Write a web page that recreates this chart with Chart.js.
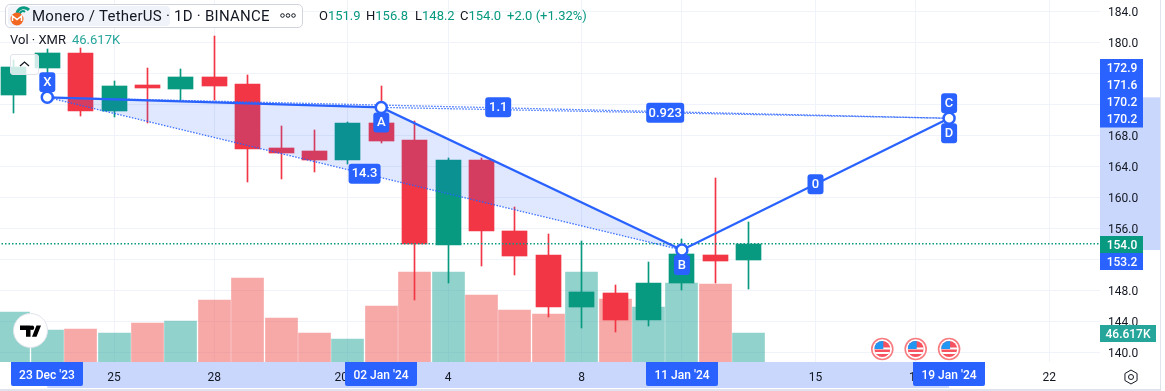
<!DOCTYPE html>
<html>
<head>
<meta charset="utf-8">
<script src="https://cdn.jsdelivr.net/npm/chart.js@4"></script>
<style>
html,body{margin:0;padding:0;background:#fff;overflow:hidden}
#wrap{position:relative;width:1165px;height:391px;font-family:Roboto,sans-serif;color:#131722}
#frame{position:absolute;left:0;top:0;width:1160px;height:389px;border-right:1px solid #E0E3EB;border-bottom:2px solid #E0E3EB;box-sizing:content-box;pointer-events:none}
canvas{position:absolute;left:0;top:0}
.ov{position:absolute;white-space:nowrap}
#box{left:5px;top:4px;width:296px;height:22px;border:1px solid #D1D4DC;border-radius:5px;background:rgba(255,255,255,.85)}
#chip{left:8px;top:6px;width:162px;height:20px;background:#F0F3FA;border-radius:4px}
#title{left:32px;top:6px;font-size:15px;line-height:20px;color:#131722;letter-spacing:.25px}
#dots{left:280px;top:13px;width:16px;height:5px}
.q{top:7px;font-size:13px;line-height:18px;color:#089981}
.q b{font-weight:400;color:#131722}
#vol{left:10px;top:31px;font-size:13px;line-height:18px;color:#131722}
#volv{left:72px;top:31px;font-size:13px;line-height:18px;color:#26A69A}
#btn{left:10px;top:54px;width:27px;height:19px;border:1px solid #E0E3EB;border-radius:3px;background:rgba(255,255,255,.8)}
#logo{left:13px;top:313px;width:35px;height:35px;border-radius:50%;background:#fff;border:1px solid #E0E3EB;box-sizing:border-box}
</style>
</head>
<body>
<div id="wrap">
<canvas id="c" width="1165" height="391"></canvas>
<div id="frame"></div>
<div class="ov" id="box"></div>
<div class="ov" id="chip"></div>
<svg class="ov" style="left:9px;top:5px" width="21" height="21" viewBox="0 0 21 21">
 <path d="M8 8 A7 7 0 0 1 20 5" fill="none" stroke="#089981" stroke-width="3"/>
 <path d="M11 10 A3 3 0 0 1 16 7" fill="none" stroke="#089981" stroke-width="2"/>
 <circle cx="8" cy="14" r="6.5" fill="#F26822"/>
 <path d="M3.5 16 V11 L8 14.5 L12.5 11 V16" fill="none" stroke="#fff" stroke-width="1.5"/>
</svg>
<div class="ov" id="title">Monero / TetherUS · 1D · BINANCE</div>
<svg class="ov" id="dots" viewBox="0 0 16 5"><circle cx="2.5" cy="2.5" r="1.8" fill="none" stroke="#131722"/><circle cx="8" cy="2.5" r="1.8" fill="none" stroke="#131722"/><circle cx="13.5" cy="2.5" r="1.8" fill="none" stroke="#131722"/></svg>
<div class="ov q" style="left:319px"><b>O</b>151.9</div>
<div class="ov q" style="left:366px"><b>H</b>156.8</div>
<div class="ov q" style="left:415px"><b>L</b>148.2</div>
<div class="ov q" style="left:460px"><b>C</b>154.0</div>
<div class="ov q" style="left:507px">+2.0 (+1.32%)</div>
<div class="ov" id="vol">Vol · XMR</div>
<div class="ov" id="volv">46.617K</div>
<div class="ov" id="btn"><svg width="27" height="19" viewBox="0 0 27 19"><path d="M9 11 L13.5 7 L18 11" fill="none" stroke="#131722" stroke-width="1.3"/></svg></div>
<div class="ov" id="logo"><svg style="position:absolute;left:6px;top:11px" width="21" height="12" viewBox="6 6 28 15"><path d="M14 6H6v6h8v9h6V6zM28 21h-6l6-15h6l-6 15z M22 12a3 3 0 1 0 0-6 3 3 0 0 0 0 6z" fill="#000"/></svg></div>
</div>
<script>
// ---- data ----
const days   = [0,1,2,3,4,5,6,7,8,9,10,11,12,13,14,15,16,17,18,19,20,21,22]; // days since 22 Dec 2023
const opens  = [173.2,176.68,178.62,171.14,174.49,173.97,175.52,174.62,166.36,165.97,164.81,169.59,167.39,153.85,164.81,155.65,152.55,145.85,147.65,144.17,148.94,152.55,151.9];
const closes = [176.81,178.62,171.14,174.36,174.1,175.52,174.36,166.23,165.72,164.81,169.59,167.26,153.97,164.81,155.65,152.43,145.85,147.78,144.17,148.94,152.68,151.78,154.0];
const highs  = [177.72,179.1,179.26,175.01,176.68,176.55,180.81,175.78,169.2,168.68,169.72,174.36,169.85,165.07,165.07,158.75,155.26,154.36,148.68,151.65,154.62,162.49,156.8];
const lows   = [170.92,174.5,170.49,170.4,169.59,172.55,172.55,162.01,162.36,163.26,164.3,167.01,146.75,148.94,151.14,149.97,144.55,143.14,142.62,143.39,148.04,148.94,148.2];
const volumes= [80.4,51.4,53,46.6,62.7,65.9,99.7,135,70.7,46.6,37,90,144.7,144.7,107.7,83.6,77.2,144.7,101.3,88.4,127,125.4,46.617];
const tickDays   = [3,6,10,13,17,20,24,27,31];
const tickLabels = ['25','28','2024','4','8','11','15','18','22'];
const priceTicks = [140,144,148,152,156,160,164,168,172,176,180,184];
const patternDays   = [1,11,20,28];
const patternPrices = [172.9,171.6,153.2,170.2];
const patternNames  = ['X','A','B','C'];
const ratioLabels   = ['14.3','1.1','0.923','0'];
const dateLabels    = ["23 Dec '23","02 Jan '24","11 Jan '24","19 Jan '24"];
const priceLabels   = ['172.9','171.6','170.2','170.2'];
const eventDays     = [26,27,28];
const lastPrice = 154.0, lastVolLabel = '46.617K';

const RED='#F23645', GREEN='#089981', BLUE='#2962FF', BAND='#C9D7FD';
const FONT='Roboto, sans-serif';
const pt=(i)=>({x:patternDays[i],y:patternPrices[i]});
const isUp=(i)=>closes[i]>=opens[i];
const noPad=s=>{s.paddingTop=s.paddingBottom=s.paddingLeft=s.paddingRight=0;};

function pill(ctx,cx,cy,w,h,text,font){
  ctx.fillStyle=BLUE;ctx.beginPath();ctx.roundRect(cx-w/2,cy-h/2,w,h,3);ctx.fill();
  ctx.fillStyle='#fff';ctx.font=font||('500 13px '+FONT);ctx.textAlign='center';ctx.textBaseline='middle';
  ctx.fillText(text,cx,cy+.5);
}

const snapBars={id:'snapBars',afterDatasetUpdate(chart,args){
  if(args.meta.type==='bar')args.meta.data.forEach(el=>{
    el.x=Math.floor(el.x)+.5;el.y=Math.round(el.y);el.base=Math.round(el.base);
  });
}};

const bands={id:'bands',beforeDraw(chart){
  const {ctx,scales:{x,y}}=chart;
  ctx.save();ctx.fillStyle=BAND;
  const xa=x.getPixelForValue(patternDays[0]),xb=x.getPixelForValue(patternDays[3]);
  ctx.fillRect(xa,x.top,xb-xa,x.height);
  const ya=y.getPixelForValue(patternPrices[0]),yb=y.getPixelForValue(patternPrices[2]);
  ctx.fillRect(y.left,ya,y.width,yb-ya);
  ctx.restore();
}};

const overlay={id:'overlay',afterDraw(chart){
  const {ctx,scales:{x,y}}=chart;
  const px=v=>x.getPixelForValue(v), py=v=>y.getPixelForValue(v);
  ctx.save();
  // event flags
  eventDays.forEach(d=>{
    const cx=px(d),cy=349;
    ctx.beginPath();ctx.arc(cx,cy,10.5,0,7);ctx.fillStyle='#fff';ctx.fill();
    ctx.lineWidth=1.6;ctx.strokeStyle='#F77C80';ctx.stroke();
    ctx.save();ctx.beginPath();ctx.arc(cx,cy,8,0,7);ctx.clip();
    ctx.fillStyle='#F7525F';ctx.fillRect(cx-8,cy-8,16,16);
    ctx.fillStyle='#fff';ctx.fillRect(cx-8,cy-1.5,16,2);ctx.fillRect(cx-8,cy+3,16,2);
    ctx.fillStyle='#2196F3';ctx.fillRect(cx-8,cy-8,9,8);
    ctx.restore();
  });
  // pattern legs labels
  const mid=(a,b)=>[(px(pt(a).x)+px(pt(b).x))/2,(py(pt(a).y)+py(pt(b).y))/2];
  const m0=mid(0,2),m1=mid(0,3),m2=mid(1,3),m3=mid(2,3);
  pill(ctx,m0[0],m0[1],32,20,ratioLabels[0]);
  pill(ctx,m1[0],m1[1]-.5,26,20,ratioLabels[1]);
  pill(ctx,m2[0],m2[1],38,20,ratioLabels[2]);
  pill(ctx,m3[0],m3[1],16,20,ratioLabels[3]);
  // point letters
  pill(ctx,px(pt(0).x),py(pt(0).y)-15,16,20,'X');
  pill(ctx,px(pt(1).x),py(pt(1).y)+15,16,20,'A');
  pill(ctx,px(pt(2).x),py(pt(2).y)+15,16,20,'B');
  pill(ctx,px(pt(3).x),py(pt(3).y)-15,16,20,'C');
  pill(ctx,px(pt(3).x),py(pt(3).y)+15,16,20,'D');
  // date labels on the time axis
  const dayIdx=[patternDays[0],patternDays[1],patternDays[2],patternDays[3]];
  ctx.font='500 12px '+FONT;ctx.textAlign='center';ctx.textBaseline='middle';
  dayIdx.forEach((d,i)=>{
    const cx=Math.round(px(d));
    ctx.fillStyle=BLUE;ctx.beginPath();ctx.roundRect(cx-36,x.top,72,24,[0,0,2,2]);ctx.fill();
    ctx.fillStyle='#fff';ctx.fillText(dateLabels[i],cx,x.top+13.5);
  });
  // price labels on the right axis
  ctx.font='500 12px '+FONT;ctx.textAlign='center';
  const boxL=y.left,boxW=43;
  ctx.fillStyle=BLUE;ctx.fillRect(boxL,59,boxW,68.5);
  ctx.fillStyle='#fff';
  priceLabels.forEach((t,i)=>ctx.fillText(t,boxL+22,69+i*17));
  ctx.fillStyle=BLUE;ctx.fillRect(boxL,253,boxW,17);
  ctx.fillStyle='#fff';ctx.fillText(patternPrices[2].toFixed(1),boxL+22,262.5);
  ctx.fillStyle=GREEN;ctx.fillRect(boxL,236,boxW,17);
  ctx.fillStyle='#fff';ctx.fillText(lastPrice.toFixed(1),boxL+22,245.5);
  ctx.fillStyle='#26A69A';ctx.fillRect(boxL,325,56,17);
  ctx.fillStyle='#fff';ctx.fillText(lastVolLabel,boxL+28,334.5);
  // settings icon
  const gx=1131,gy=377;
  ctx.strokeStyle='#131722';ctx.lineWidth=1;ctx.beginPath();
  for(let k=0;k<6;k++){const a=Math.PI/3*k+Math.PI/6;const fx=gx+7*Math.cos(a),fy=gy+7*Math.sin(a);k?ctx.lineTo(fx,fy):ctx.moveTo(fx,fy);}
  ctx.closePath();ctx.stroke();
  ctx.beginPath();ctx.arc(gx,gy,2.5,0,7);ctx.stroke();
  ctx.restore();
}};

const barBase={type:'bar',grouped:false,borderWidth:0,borderSkipped:false,yAxisID:'y'};
new Chart(document.getElementById('c'),{
  data:{datasets:[
    {...barBase,label:'Volume',yAxisID:'v',order:9,barThickness:32,
      data:days.map((d,i)=>({x:d,y:[0,volumes[i]]})),
      backgroundColor:days.map((d,i)=>isUp(i)?'rgba(38,166,154,.5)':'rgba(239,83,80,.5)')},
    {...barBase,label:'Wick',order:8,barThickness:1,
      data:days.map((d,i)=>({x:d,y:[lows[i],highs[i]]})),
      backgroundColor:days.map((d,i)=>isUp(i)?GREEN:RED)},
    {...barBase,label:'Body',order:7,barThickness:25,
      data:days.map((d,i)=>({x:d,y:[opens[i],closes[i]]})),
      backgroundColor:days.map((d,i)=>isUp(i)?GREEN:RED)},
    {type:'line',label:'Last',order:6,data:[{x:-1,y:lastPrice},{x:33,y:lastPrice}],borderColor:GREEN,borderWidth:1.4,borderDash:[1.5,2],pointRadius:0},
    {type:'line',label:'XAB upper',order:5,data:[pt(0),pt(1),pt(2)],borderWidth:0,pointRadius:0,fill:'+1',backgroundColor:'rgba(41,98,255,.15)',borderColor:'transparent'},
    {type:'line',label:'XB',order:5,data:[pt(0),pt(2)],borderColor:'rgba(41,98,255,.9)',borderWidth:1.3,borderDash:[1.5,1.5],pointRadius:0},
    {type:'line',label:'XD',order:5,data:[pt(0),pt(3)],borderColor:'rgba(41,98,255,.9)',borderWidth:1.3,borderDash:[1.5,1.5],pointRadius:0},
    {type:'line',label:'AD',order:5,data:[pt(1),pt(3)],borderColor:'rgba(41,98,255,.9)',borderWidth:1.3,borderDash:[1.5,1.5],pointRadius:0},
    {type:'line',label:'Pattern',order:1,data:patternDays.map((d,i)=>({x:d,y:patternPrices[i]})),
      borderColor:BLUE,borderWidth:2.2,tension:0,pointRadius:5.5,pointBorderWidth:2.5,pointBorderColor:BLUE,pointBackgroundColor:'#fff'}
  ]},
  options:{
    responsive:false,animation:false,
    layout:{autoPadding:false,padding:{right:5,bottom:3,left:0,top:0}},
    plugins:{legend:{display:false},tooltip:{enabled:false}},
    scales:{
      x:{type:'linear',offset:false,min:-0.416,max:32.518,
        afterBuildTicks(s){s.ticks=tickDays.map(v=>({value:v}));},
        afterFit(s){s.height=26;noPad(s);},
        border:{display:false},
        grid:{color:'#F0F3FA',drawTicks:false,offset:false},
        ticks:{autoSkip:false,maxRotation:0,padding:8.5,color:'#131722',font:{family:FONT,size:12},
          callback(v){const k=tickDays.indexOf(v);return k<0?'':tickLabels[k];}}},
      y:{type:'linear',position:'right',min:138.75,max:185.46,
        afterBuildTicks(s){s.ticks=priceTicks.map(v=>({value:v}));},
        afterFit(s){s.width=60;noPad(s);},
        border:{display:false},
        grid:{color:'#F0F3FA',drawTicks:false},
        ticks:{padding:8,labelOffset:1.5,color:'#131722',font:{family:FONT,size:12},callback:v=>v.toFixed(1)}},
      v:{type:'linear',display:false,min:0,max:581.9}
    }
  },
  plugins:[snapBars,bands,overlay]
});
</script>
</body>
</html>
